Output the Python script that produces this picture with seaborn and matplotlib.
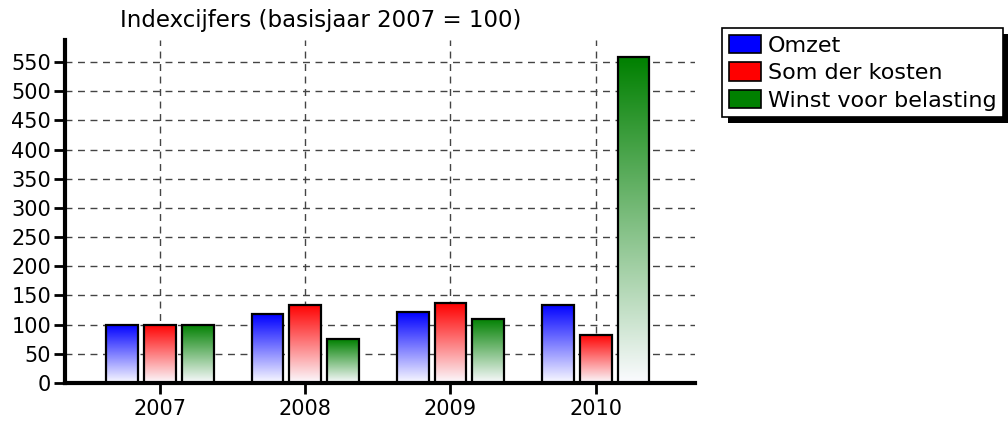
import numpy as np
import pandas as pd
import seaborn as sns
import matplotlib.pyplot as plt
from matplotlib.colors import LinearSegmentedColormap
from matplotlib.patches import Patch, Rectangle

# data
jaren = ['2007', '2008', '2009', '2010']
reeksen = ['Omzet', 'Som der kosten', 'Winst voor belasting']
omzet = [100, 118, 121, 134]
kosten = [100, 134, 137, 83]
winst = [100, 75, 110, 558]
kleuren = ['#0000ff', '#ff0000', '#008000']

df = pd.DataFrame({
    'jaar': jaren * 3,
    'index': omzet + kosten + winst,
    'reeks': [reeksen[0]] * 4 + [reeksen[1]] * 4 + [reeksen[2]] * 4,
})

sns.set_style('ticks')
plt.rcParams['font.family'] = ['DejaVu Sans']
plt.rcParams['text.color'] = 'black'

fig = plt.figure(figsize=(10.08, 4.21), dpi=100)
ax = fig.add_axes([0.0645, 0.0903, 0.6245, 0.8147])

sns.barplot(data=df, x='jaar', y='index', hue='reeks', palette=kleuren,
            width=0.78, gap=0.16, edgecolor='black', linewidth=1.6,
            ax=ax, legend=False, zorder=3)

# gradient fill: white at the bottom, full colour at the top
for i, bar in enumerate(ax.patches):
    if bar.get_height() <= 0:
        continue
    kleur = kleuren[i // 4]
    cmap = LinearSegmentedColormap.from_list('g', ['#fbfbff', kleur])
    x0, y0 = bar.get_x(), bar.get_y()
    w, h = bar.get_width(), bar.get_height()
    grad = np.linspace(0, 1, 256).reshape(-1, 1)
    im = ax.imshow(grad, cmap=cmap, origin='lower', aspect='auto',
                   extent=[x0, x0 + w, y0, y0 + h], zorder=2.5)
    im.set_clip_path(bar)
    bar.set_facecolor('none')

ax.set_xlim(-0.654, 3.68)
ax.set_ylim(0, 588)
ax.set_yticks(range(0, 551, 50))
ax.set_xlabel('')
ax.set_ylabel('')
fig.text(321 / 1008, 1 - 20 / 421, 'Indexcijfers (basisjaar 2007 = 100)',
         fontsize=16.5, ha='center', va='center', color='black')

ax.grid(True, linestyle=(0, (5, 4)), color='#444444', linewidth=1)
ax.set_axisbelow(True)
for s in ['top', 'right']:
    ax.spines[s].set_visible(False)
ax.spines['left'].set_linewidth(3)
ax.spines['bottom'].set_linewidth(3)
ax.spines['left'].set_color('black')
ax.spines['bottom'].set_color('black')
ax.tick_params(axis='both', direction='out', length=8, width=2,
               labelsize=15, colors='black')
ax.tick_params(axis='y', pad=2)

handles = [Patch(facecolor=k, edgecolor='black', linewidth=1.2) for k in kleuren]
leg = fig.legend(handles, reeksen, loc='upper left',
                 bbox_to_anchor=(722 / 1008, 1 - 28 / 421),
                 fontsize=16, frameon=True, fancybox=False, framealpha=1,
                 facecolor='white', edgecolor='black',
                 handlelength=1.45, handleheight=0.9, handletextpad=0.3,
                 borderpad=0.3, labelspacing=0.3, borderaxespad=0)
leg.get_frame().set_linewidth(1.2)
for t in leg.get_texts():
    t.set_color('black')

# black shadow behind the legend
fig.canvas.draw()
bb = leg.get_window_extent()
fig.patches.append(Rectangle((bb.x0 + 6, bb.y0 - 6), bb.width, bb.height,
                             facecolor='black', edgecolor='none',
                             transform=None, zorder=4, figure=fig))

fig.savefig('out.png', dpi=100)
